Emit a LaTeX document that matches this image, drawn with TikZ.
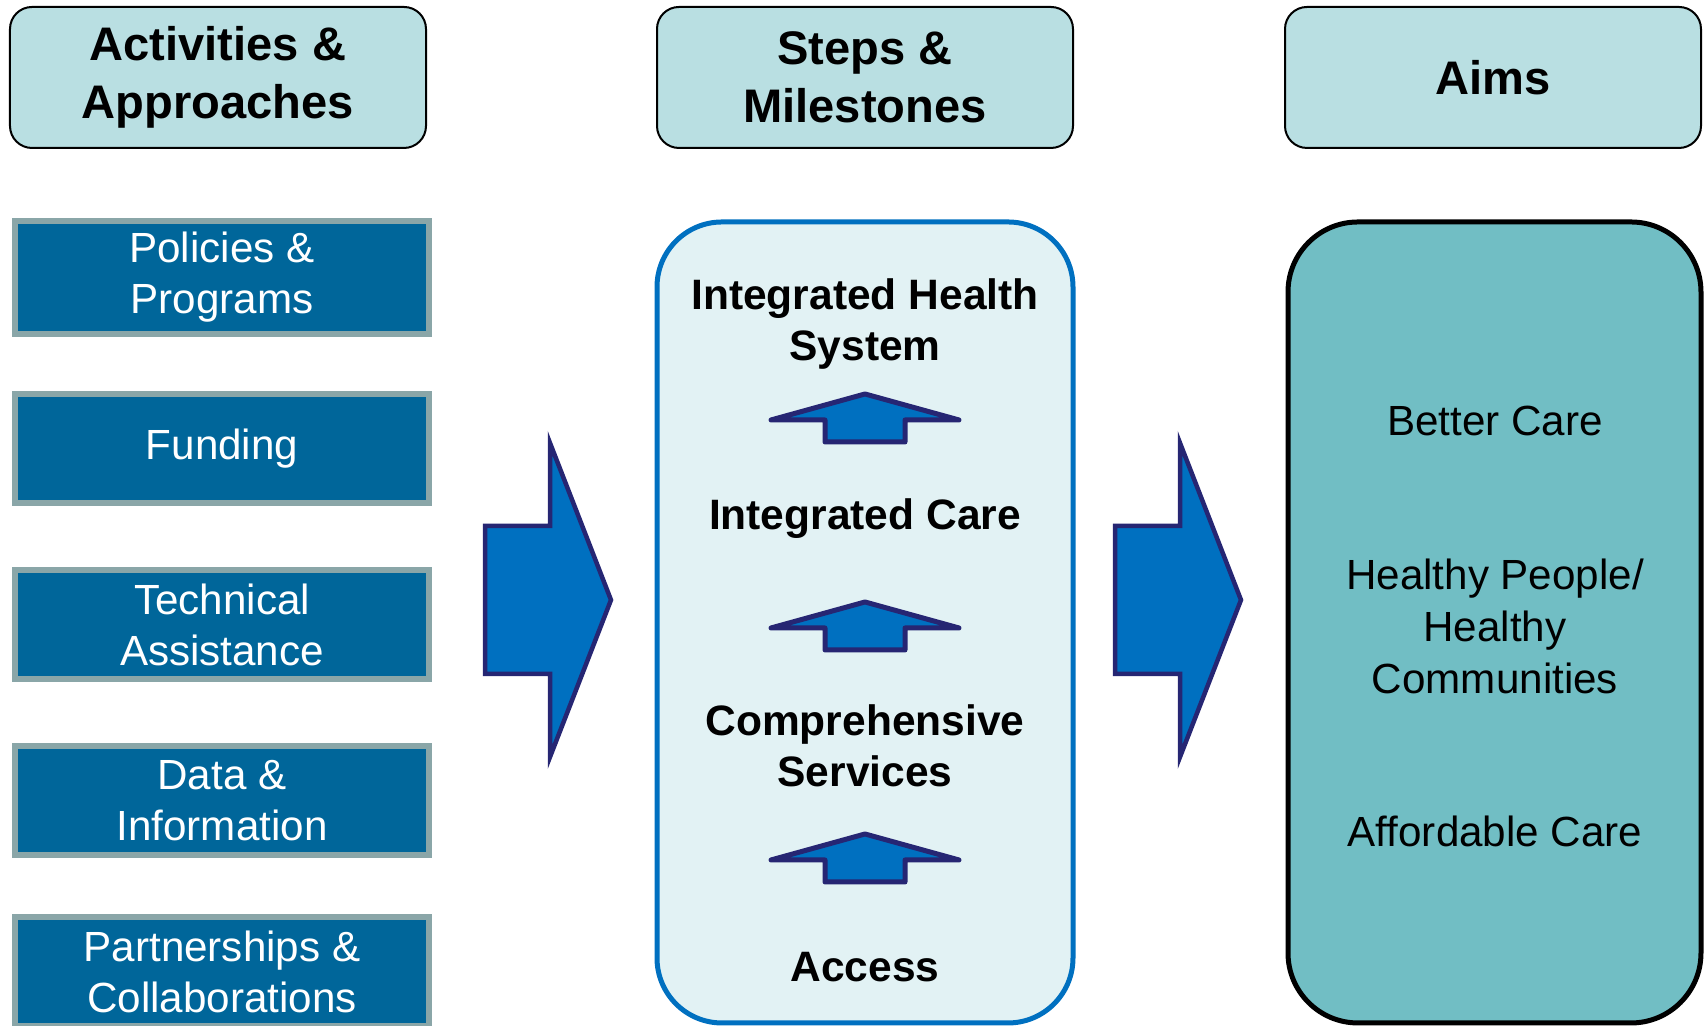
\documentclass[tikz,border=0pt]{standalone}
\usepackage{fontspec}
\setmainfont{Liberation Sans}
\definecolor{hdfill}{HTML}{B9DFE2}
\definecolor{actfill}{HTML}{00669A}
\definecolor{actline}{HTML}{8AA6A8}
\definecolor{stepfill}{HTML}{E2F2F4}
\definecolor{arrblue}{HTML}{0070C0}
\definecolor{arrnavy}{HTML}{262673}
\definecolor{aimfill}{HTML}{71BEC4}

\begin{document}
\begin{tikzpicture}[scale=1,
  hdbox/.style={draw=black, line width=0.02cm, fill=hdfill, rounded corners=0.22cm,
    minimum width=4.16cm, minimum height=1.41cm, align=center,
    font=\fontsize{13.4}{16.5}\selectfont\bfseries},
  actbox/.style={draw=actline, line width=0.06cm, fill=actfill, text=white,
    minimum width=4.14cm, minimum height=1.09cm, align=center,
    font=\fontsize{12}{14.5}\selectfont},
  steptext/.style={align=center, font=\fontsize{12.1}{14.5}\selectfont\bfseries},
  aimtext/.style={align=center, font=\fontsize{12}{14.8}\selectfont},
  bigarrow/.style={draw=arrnavy, fill=arrblue, line width=0.045cm},
  uparrow/.style={draw=arrnavy, fill=arrblue, line width=0.05cm, line join=round}]
  \useasboundingbox (0, 0) rectangle (17.08, 10.26);

  % column headers
  \node[hdbox] (act) at (2.18, 9.485) {Activities \&\\Approaches};
  \node[hdbox] (steps) at (8.65, 9.485) {Steps \&\\Milestones};
  \node[hdbox] (aims) at (14.93, 9.485) {Aims};

  % activities
  \node[actbox] (policies) at (2.22, 7.485) {Policies \&\\Programs};
  \node[actbox] (funding) at (2.22, 5.775) {Funding};
  \node[actbox] (techassist) at (2.22, 4.01) {Technical\\Assistance};
  \node[actbox] (datainfo) at (2.22, 2.255) {Data \&\\Information};
  \node[actbox] (partners) at (2.22, 0.545) {Partnerships \&\\Collaborations};

  % steps
  \draw[draw=arrblue, fill=stepfill, line width=0.05cm, rounded corners=0.65cm]
    (6.57, 0.03) rectangle (10.73, 8.04);
  \node[steptext] (system) at (8.65, 7.015) {Integrated Health\\System};
  \node[steptext] (intcare) at (8.65, 5.07) {Integrated Care};
  \node[steptext] (services) at (8.65, 2.805) {Comprehensive\\Services};
  \node[steptext] (access) at (8.65, 0.59) {Access};
  \foreach \t in {6.32, 4.24, 1.92}
    \draw[uparrow] (8.25, \t-0.48) -- (8.25, \t-0.26) -- (7.71, \t-0.26) -- (8.65, \t)
      -- (9.59, \t-0.26) -- (9.05, \t-0.26) -- (9.05, \t-0.48) -- cycle;

  % aims
  \draw[draw=black, fill=aimfill, line width=0.05cm, rounded corners=0.7cm]
    (12.88, 0.03) rectangle (17.01, 8.04);
  \node[aimtext] (better) at (14.95, 6.05) {Better Care};
  \node[aimtext] (healthy) at (14.95, 4.00) {Healthy People/\\Healthy\\Communities};
  \node[aimtext] (afford) at (14.95, 1.95) {Affordable Care};

  % block arrows between columns
  \foreach \x in {4.85, 11.15}
    \draw[bigarrow] (\x, 5.00) -- (\x+0.65, 5.00) -- (\x+0.65, 5.83) -- (\x+1.26, 4.26)
      -- (\x+0.65, 2.69) -- (\x+0.65, 3.52) -- (\x, 3.52) -- cycle;
\end{tikzpicture}
\end{document}
